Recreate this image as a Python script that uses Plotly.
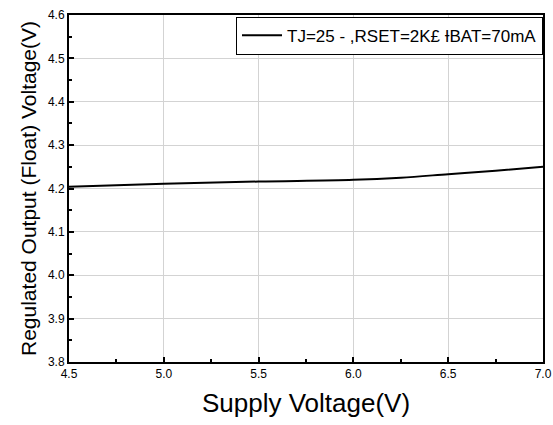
import plotly.graph_objects as go

supply_v = [4.5, 5.0, 5.5, 6.0, 6.25, 6.5, 6.75, 7.0]
float_v = [4.204, 4.211, 4.216, 4.220, 4.225, 4.233, 4.241, 4.250]
legend_name = "TJ=25 - ,RSET=2K£ ƗBAT=70mA"
x_ticks = [4.5, 5.0, 5.5, 6.0, 6.5, 7.0]
x_labels = ["4.5", "5.0", "5.5", "6.0", "6.5", "7.0"]
y_ticks = [3.8, 3.9, 4.0, 4.1, 4.2, 4.3, 4.4, 4.5, 4.6]
y_labels = ["3.8", "3.9", "4.0", "4.1", "4.2", "4.3", "4.4", "4.5", "4.6"]

fig = go.Figure()
fig.add_trace(go.Scatter(x=supply_v, y=float_v, mode="lines", name=legend_name,
                         line=dict(color="black", width=2, shape="spline"),
                         showlegend=True))

font = "Liberation Sans, Arial, sans-serif"
fig.update_layout(
    width=553, height=425,
    margin=dict(l=69, r=10, t=15, b=63, autoexpand=False),
    paper_bgcolor="white", plot_bgcolor="white",
    font=dict(family=font, color="black"),
    showlegend=True,
    legend=dict(x=1.0, y=0.995, xanchor="right", yanchor="top",
                bgcolor="white", bordercolor="black", borderwidth=1,
                font=dict(size=17, family=font), itemwidth=40,
                tracegroupgap=0),
)
fig.update_xaxes(
    range=[4.5, 7.0], tickvals=x_ticks, ticktext=x_labels,
    showline=True, linecolor="black", linewidth=2, mirror=True,
    ticks="inside", ticklen=5, tickwidth=1.5, tickcolor="black",
    minor=dict(ticks="inside", ticklen=3, tickcolor="black", dtick=0.25, showgrid=False),
    showgrid=True, gridcolor="#d3d3d3", gridwidth=1,
    tickfont=dict(size=12), zeroline=False,
    title=dict(text="Supply Voltage(V)", font=dict(size=26), standoff=13),
)
fig.update_yaxes(
    range=[3.8, 4.6], tickvals=y_ticks, ticktext=y_labels,
    showline=True, linecolor="black", linewidth=2, mirror=True,
    ticks="inside", ticklen=5, tickwidth=1.5, tickcolor="black",
    minor=dict(ticks="inside", ticklen=3, tickcolor="black", dtick=0.05, showgrid=False),
    showgrid=True, gridcolor="#d3d3d3", gridwidth=1,
    tickfont=dict(size=12), zeroline=False,
    title=dict(text="Regulated Output (Float) Voltage(V)", font=dict(size=21), standoff=6),
)
fig.write_html("out.html")
